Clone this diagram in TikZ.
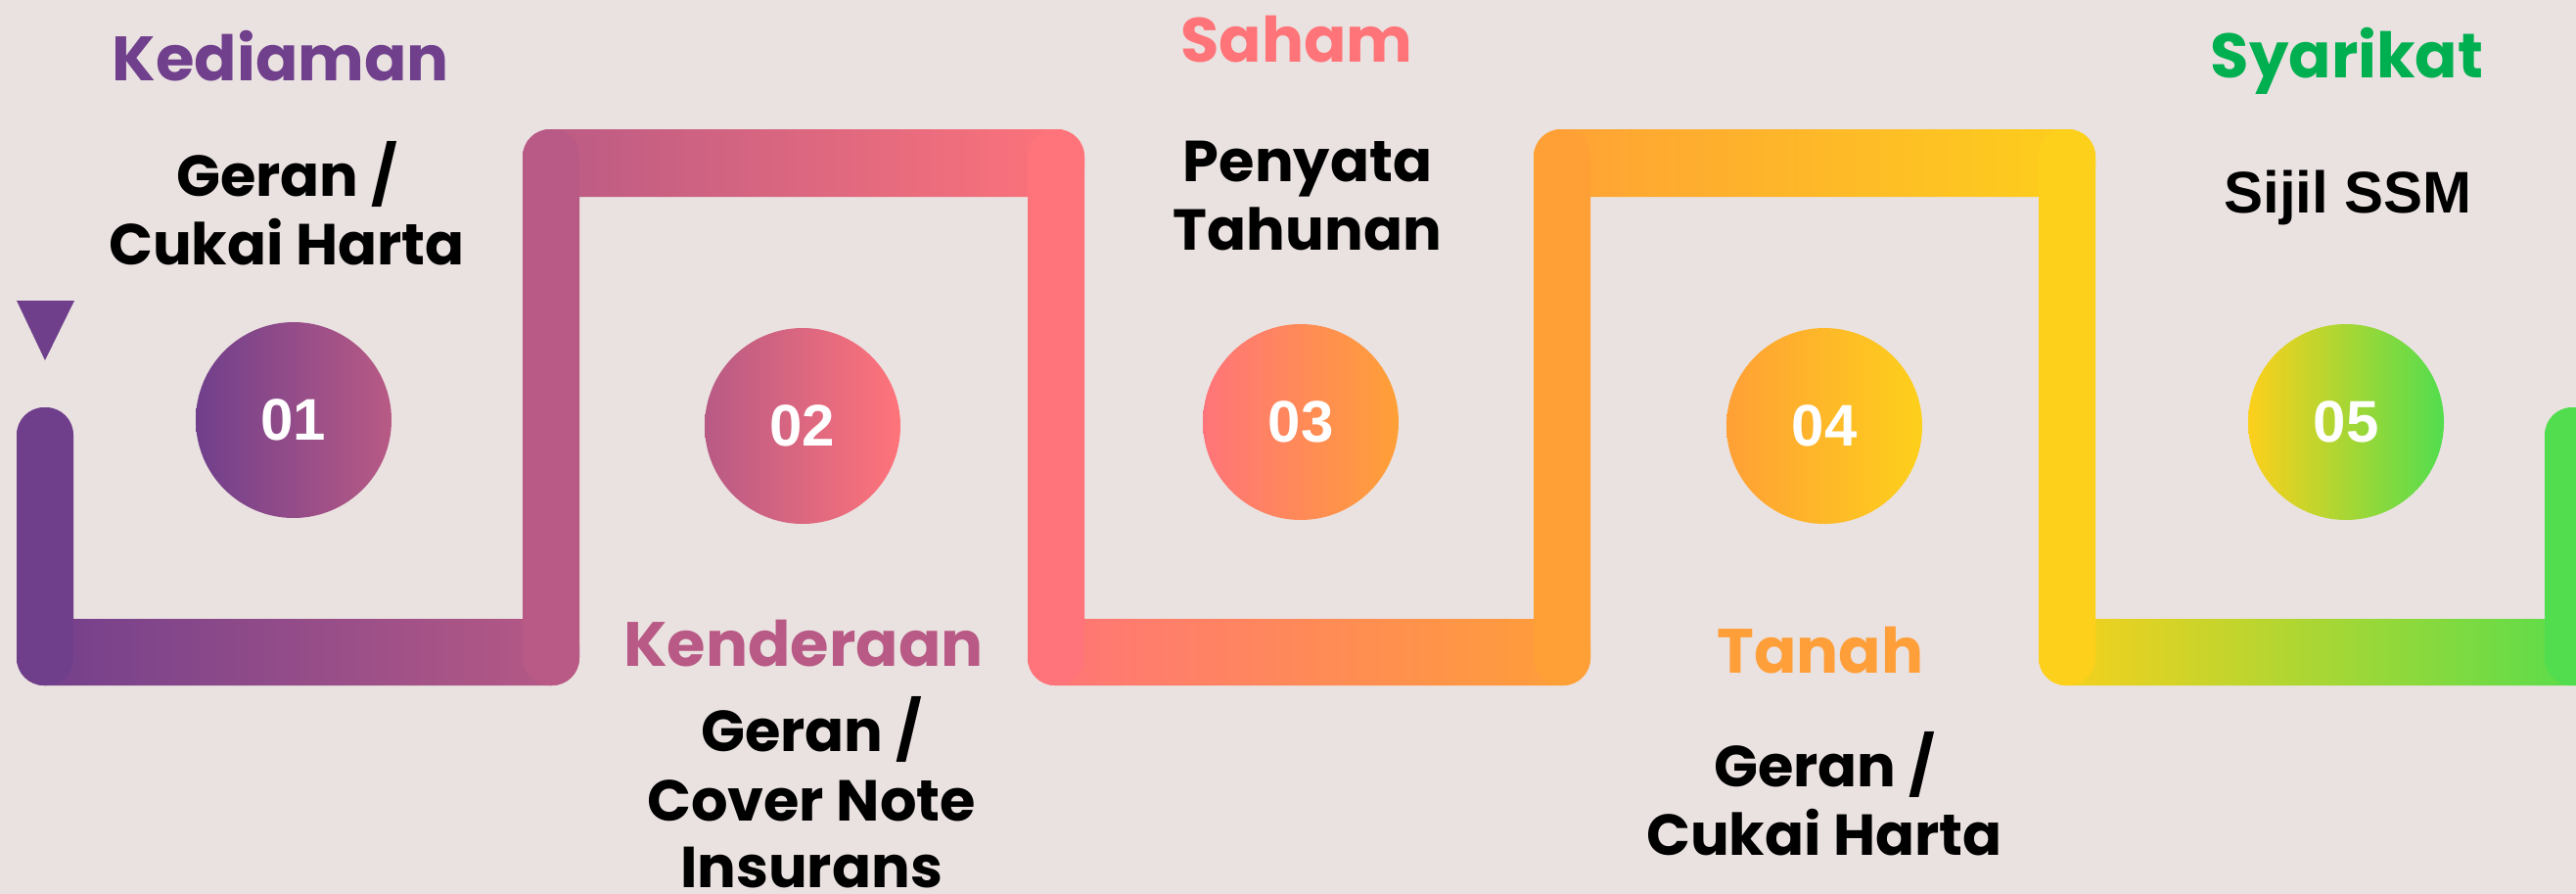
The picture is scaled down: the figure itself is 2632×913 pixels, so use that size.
\documentclass[tikz,border=0pt]{standalone}
\usepackage{fontspec}
\newfontfamily\pop{Poppins}
\newfontfamily\arl{Liberation Sans}
\definecolor{bg}{HTML}{EAE2E0}
\definecolor{cpur}{HTML}{703F8C}
\definecolor{cpink}{HTML}{B85A85}
\definecolor{ccor}{HTML}{FF747A}
\definecolor{corg}{HTML}{FFA036}
\definecolor{cyel}{HTML}{FDD01B}
\definecolor{cgrn}{HTML}{52DD4E}
\definecolor{tpur}{HTML}{70408D}
\definecolor{tpink}{HTML}{B85A85}
\definecolor{tcor}{HTML}{FF7479}
\definecolor{torg}{HTML}{FF9F3A}
\definecolor{tgrn}{HTML}{00B050}
\begin{document}
\begin{tikzpicture}[x=1pt,y=-1pt,
  band/.style={rounded corners=28pt},
  num/.style={circle, minimum size=200pt, inner sep=0pt, text=white, font=\arl\bfseries\fontsize{60}{60}\selectfont},
  title/.style={anchor=base, inner sep=0pt, font=\pop\bfseries\fontsize{64}{70}\selectfont},
  body/.style={anchor=base, inner sep=0pt, text=black, font=\pop\bfseries\fontsize{59}{70}\selectfont},
  body2/.style={anchor=base, inner sep=0pt, text=black, font=\arl\bfseries\fontsize{60}{70}\selectfont},
]
\useasboundingbox (0,0) rectangle (2632,913);
\fill[bg] (0,0) rectangle (2632,913);
\begin{scope}
\clip (0,0) rectangle (2632,913);
% horizontal bands
\shade[band, left color=cpur, right color=cpink] (17,632) rectangle (592,700);
\shade[band, left color=cpink, right color=ccor] (534,132) rectangle (1108,201);
\shade[band, left color=ccor, right color=corg] (1050,632) rectangle (1625,700);
\shade[band, left color=corg, right color=cyel] (1567,132) rectangle (2141,201);
\shade[band, left color=cyel, right color=cgrn] (2083,632) rectangle (2660,700);
% vertical bars
\fill[band, cpur] (17,416) rectangle (75,700);
\fill[band, cpink] (534,132) rectangle (592,700);
\fill[band, ccor] (1050,132) rectangle (1108,700);
\fill[band, corg] (1567,132) rectangle (1625,700);
\fill[band, cyel] (2083,132) rectangle (2141,700);
\fill[band, cgrn] (2600,416) rectangle (2658,700);
\end{scope}
% start marker
\fill[cpur] (17,307) -- (76,307) -- (46,368) -- cycle;
% circles
\node[num, left color=cpur, right color=cpink] (c1) at (300,429) {01};
\node[num, left color=cpink, right color=ccor] (c2) at (820,435) {02};
\node[num, left color=ccor, right color=corg] (c3) at (1329,431) {03};
\node[num, left color=corg, right color=cyel] (c4) at (1864,435) {04};
\node[num, left color=cyel, right color=cgrn] (c5) at (2397,431) {05};
% titles
\node[title, text=tpur] (t1) at (287,82) {Kediaman};
\node[title, text=tpink] (t2) at (821,680) {Kenderaan};
\node[title, text=tcor] (t3) at (1325,63) {Saham};
\node[title, text=torg] (t4) at (1860,687) {Tanah};
\node[title, text=tgrn] (t5) at (2398,79) {Syarikat};
% bodies
\node[body] (b1a) at (293,200) {Geran /};
\node[body] (b1b) at (293,270) {Cukai Harta};
\node[body] (b2a) at (829,767) {Geran /};
\node[body] (b2b) at (829,838) {Cover Note};
\node[body] (b2c) at (829,906) {Insurans};
\node[body] (b3a) at (1336,185) {Penyata};
\node[body] (b3b) at (1336,255) {Tahunan};
\node[body] (b4a) at (1864,803) {Geran /};
\node[body] (b4b) at (1864,873) {Cukai Harta};
\node[body2] (b5a) at (2399,217) {Sijil SSM};
\end{tikzpicture}
\end{document}
